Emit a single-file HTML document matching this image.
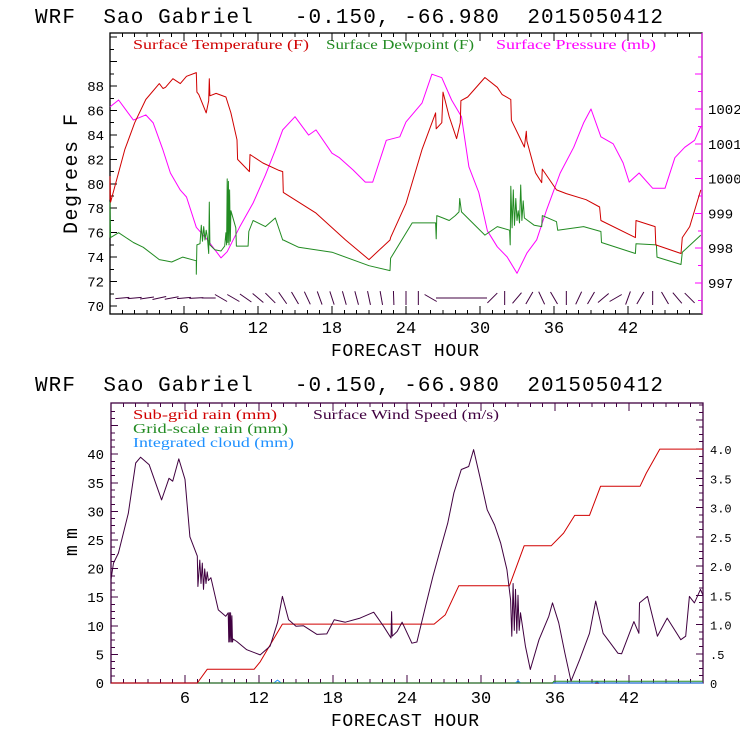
<!DOCTYPE html>
<html><head><meta charset="utf-8"><style>
html,body{margin:0;padding:0;background:#fff;}
svg{display:block;font-family:"Liberation Mono",monospace;}
svg text{white-space:pre;}
.leg{font-family:"Liberation Serif",serif;font-weight:normal;font-size:14px;}
</style></head><body>
<svg id="c" width="740" height="740" viewBox="0 0 740 740" xmlns="http://www.w3.org/2000/svg" xml:space="preserve">
<rect width="740" height="740" fill="#fff"/>
<text x="35" y="23" font-size="21" textLength="628" lengthAdjust="spacing">WRF  Sao Gabriel   -0.150, -66.980  2015050412</text>
<text x="35" y="391" font-size="21" textLength="628" lengthAdjust="spacing">WRF  Sao Gabriel   -0.150, -66.980  2015050412</text>
<text class="leg" x="133" y="49" fill="#d00000" textLength="176" lengthAdjust="spacingAndGlyphs">Surface Temperature (F)</text>
<text class="leg" x="326" y="49" fill="#228b22" textLength="148" lengthAdjust="spacingAndGlyphs">Surface Dewpoint (F)</text>
<text class="leg" x="496" y="49" fill="#ff00ff" textLength="160" lengthAdjust="spacingAndGlyphs">Surface Pressure (mb)</text>
<text class="leg" x="133" y="419" fill="#d00000" textLength="144" lengthAdjust="spacingAndGlyphs">Sub-grid rain (mm)</text>
<text class="leg" x="133" y="433" fill="#228b22" textLength="155" lengthAdjust="spacingAndGlyphs">Grid-scale rain (mm)</text>
<text class="leg" x="133" y="447" fill="#1e90ff" textLength="161" lengthAdjust="spacingAndGlyphs">Integrated cloud (mm)</text>
<text class="leg" x="313" y="419" fill="#400040" textLength="186" lengthAdjust="spacingAndGlyphs">Surface Wind Speed (m/s)</text>
<text x="0" y="0" font-size="20" transform="translate(77,234) rotate(-90)" textLength="120" lengthAdjust="spacing">Degrees F</text>
<text x="0" y="0" font-size="18" transform="translate(77,556) rotate(-90)" textLength="28" lengthAdjust="spacing">mm</text>
<text x="405" y="356" font-size="18" text-anchor="middle" textLength="148" lengthAdjust="spacing">FORECAST HOUR</text>
<text x="405" y="726" font-size="18" text-anchor="middle" textLength="148" lengthAdjust="spacing">FORECAST HOUR</text>
<g id="g"></g>
</svg>
<script>
// ---- data ----
const xTickLabels=["6","12","18","24","30","36","42"];
const tempTickLabels=["70","72","74","76","78","80","82","84","86","88"];
const presTickLabels=["997","998","999","1000","1001","1002"];
const mmTickLabels=["0","5","10","15","20","25","30","35","40"];
const wsTickLabels=["0",".5","1.0","1.5","2.0","2.5","3.0","3.5","4.0"];

const tempH=[0,0,0.05,1.2,2.0,2.9,4.0,4.3,4.5,5.1,5.7,6.2,7.0,7.05,7.2,7.8,8.0,8.05,8.1,8.6,9.4,9.8,10.3,10.35,11.3,11.35,12.4,13.7,14.0,14.05,16.7,19.1,21.0,22.7,22.75,24.0,25.3,26.4,26.45,26.9,27.0,27.5,28.1,28.4,28.45,29.0,30.4,31.4,31.8,32.5,32.55,33.6,33.75,33.8,34.5,35.0,35.05,36.2,37.0,38.6,39.7,39.8,42.6,42.65,44.2,44.25,46.3,46.4,47.0,47.9];
const tempV=[78.7,80.6,78.5,82.8,85.0,86.9,88.2,87.8,87.9,88.6,88.2,88.8,89.1,87.5,87.3,85.8,86.8,88.6,87.2,87.4,87.1,85.8,83.6,82.0,81.0,82.4,81.7,81.1,81.0,79.3,77.6,75.4,73.8,75.4,75.6,78.4,82.8,85.8,84.5,85.0,87.5,85.5,83.7,85.0,86.8,87.1,88.7,87.9,87.3,86.9,85.2,83.0,84.3,83.5,80.9,80.1,81.2,79.5,79.2,78.7,78.1,77.0,75.6,77.0,76.5,75.0,74.3,75.6,76.5,79.5];

const dewH=[0,0,0.05,0.7,1.9,2.7,4.0,4.5,5.0,5.9,7.0,7.0,7.05,7.3,7.4,7.5,7.6,7.7,7.8,7.9,8.0,8.05,8.1,8.5,9.0,9.3,9.4,9.45,9.5,9.55,9.6,9.65,9.7,9.75,9.8,10.2,10.25,11.2,11.25,11.6,12.6,13.4,14.0,14.05,15.3,18.0,21.0,22.7,22.75,24.5,26.4,26.45,26.5,27.0,27.5,28.0,28.3,28.35,28.5,30.4,31.4,32.4,32.45,32.5,32.6,32.7,32.8,32.9,33.0,33.1,33.2,33.3,33.4,33.5,33.6,34.4,35.0,35.05,36.2,36.3,38.4,39.8,39.85,42.6,42.65,44.3,44.35,46.3,46.4,47.9];
const dewV=[75.6,78.5,75.6,76.0,75.2,74.8,73.8,73.7,73.6,74.0,73.7,72.6,75.0,75.1,76.6,75.3,76.5,75.4,76.2,75.6,74.3,78.5,75.0,74.6,74.5,74.9,76.0,75.0,80.4,75.2,80.2,75.0,79.5,75.3,77.8,76.4,74.9,74.9,76.1,77.0,76.5,77.2,75.4,75.4,74.8,74.4,73.3,72.9,73.9,76.8,76.8,75.5,77.4,77.2,77.0,77.4,77.7,78.8,77.7,75.8,76.5,76.2,75.0,79.8,76.4,79.5,76.6,78.8,77.0,77.8,76.8,79.9,77.0,78.6,77.2,76.6,76.5,77.4,76.9,76.2,76.5,76.1,75.2,74.3,75.1,75.0,74.0,73.4,74.4,75.8];

const presH=[0,0.7,1.9,2.9,3.5,4.3,4.9,5.7,6.2,7.0,7.9,9.0,9.5,10.5,11.6,12.6,13.4,14.0,15.0,16.1,16.7,18.0,18.6,19.7,20.7,21.3,22.4,23.5,24.0,25.3,26.1,26.9,27.7,28.5,29.1,29.9,30.6,31.4,32.2,33.0,33.8,34.6,35.4,36.5,37.6,38.4,39.0,39.8,40.8,41.6,42.1,42.9,44.0,45.0,45.8,46.6,47.4,47.9];
const presV=[1002.06,1002.26,1001.68,1001.83,1001.6,1000.82,1000.16,999.67,999.47,998.6,998.24,997.72,997.9,998.6,999.3,1000.1,1000.82,1001.4,1001.78,1001.25,1001.4,1000.73,1000.6,1000.25,999.9,999.9,1001.1,1001.2,1001.63,1002.17,1003.0,1002.9,1002.26,1001.78,1000.34,999.6,998.5,998.04,997.75,997.28,997.86,998.24,999.1,1000.16,1000.9,1001.6,1002.0,1001.2,1001.0,1000.45,999.9,1000.16,999.72,999.72,1000.6,1000.9,1001.1,1001.5];

const barbDir=[5,5,8,12,10,5,3,0,-30,-30,-35,-40,-45,-55,-60,-65,-70,-72,-74,-75,-78,-80,-88,-90,-90,-30,0,0,0,0,45,-90,50,60,-65,-60,-90,65,60,40,30,70,60,-90,-60,-50,-45];

const rainH=[0,7.0,7.8,11.6,12.1,13.9,26.2,27.1,28.2,32.3,33.5,35.7,36.7,37.6,38.8,39.7,42.9,43.4,44.5,48];
const rainV=[0,0,2.4,2.4,3.7,10.3,10.3,11.9,17.0,17.0,24.0,24.0,26.2,29.3,29.3,34.4,34.4,36.7,40.9,40.9];
const gridRainH=[0,35.8,35.9,48];
const gridRainV=[0,0,0.3,0.3];
const cloudH=[0,13.2,13.5,13.8,32.8,33.0,33.2,39.2,39.4,39.6,48];
const cloudV=[0,0,0.5,0,0,0.4,0,0,0.3,0,0];

const wsH=[0,0.2,0.6,1.4,2.0,2.4,3.1,4.1,4.7,5.0,5.5,6.0,6.4,7.0,7.05,7.2,7.3,7.4,7.5,7.6,7.7,7.8,7.9,8.1,8.7,9.3,9.5,9.55,9.6,9.65,9.7,9.75,9.8,9.85,9.9,10.2,11.0,12.1,12.9,13.5,13.9,14.4,15.0,15.6,16.7,17.5,18.1,19.0,20.2,21.3,22.1,22.7,22.75,22.8,23.2,23.6,24.4,24.8,25.5,26.1,26.7,27.3,27.8,28.4,29.0,29.4,29.9,30.5,31.1,31.6,32.1,32.4,32.5,32.6,32.7,32.8,32.9,33.0,33.1,33.2,33.6,34.0,34.7,35.5,35.8,36.3,36.8,37.3,38.0,38.8,39.3,39.9,40.5,41.1,41.4,42.4,42.8,42.85,43.5,44.3,45.1,46.2,46.6,46.9,47.3,47.8,48];
const wsV=[1.77,2.05,2.22,2.9,3.76,3.86,3.73,3.13,3.5,3.45,3.83,3.48,2.5,2.17,1.65,2.1,1.7,2.05,1.6,1.95,1.7,1.9,1.75,1.8,1.25,1.14,1.2,0.7,1.2,0.7,1.2,0.7,1.15,0.7,0.75,0.71,0.57,0.48,0.63,1.03,1.48,1.08,0.97,0.98,0.83,0.84,1.08,1.04,1.11,1.21,0.97,0.77,1.22,0.8,0.88,1.04,0.68,0.7,1.31,1.82,2.28,2.73,3.25,3.65,3.7,3.99,3.53,2.96,2.7,2.39,1.94,1.42,0.8,1.7,0.9,1.6,0.85,1.5,0.9,1.2,0.63,0.23,0.74,1.14,1.37,1.03,0.51,0.03,0.4,0.85,1.4,0.85,0.68,0.51,0.5,1.05,0.85,1.37,1.48,0.8,1.11,0.74,0.8,1.48,1.37,1.6,1.5];

// ---- scales ----
const T={l:110,r:702,t:33,b:314};
const B={l:111,r:703,t:403,b:683};
const xT=h=>T.l+h*(T.r-T.l)/48;
const yTemp=v=>306-(v-70)*12.22;
const yPres=v=>109-(v-1002)*34.8;
const xB=h=>B.l+h*(B.r-B.l)/48;
const yMM=v=>683-v*5.72;
const yWS=v=>683-v*58.5;

const NS='http://www.w3.org/2000/svg';
const G=document.getElementById('g');
function mk(tag,attrs,parent){const e=document.createElementNS(NS,tag);for(const k in attrs)e.setAttribute(k,attrs[k]);(parent||G).appendChild(e);return e;}
function line(x1,y1,x2,y2,c,p){return mk('line',{x1,y1,x2,y2,stroke:c,'stroke-width':1,'shape-rendering':'crispEdges'},p);}
function txt(x,y,s,anchor,size,c){const e=mk('text',{x,y,'font-size':size,'text-anchor':anchor,fill:c});e.textContent=s;return e;}
function series(H,V,fx,fy,color,name){
  let d='';for(let i=0;i<H.length;i++){d+=(i?'L':'M')+fx(H[i]).toFixed(1)+','+fy(V[i]).toFixed(1);}
  const p=mk('path',{d,fill:'none',stroke:color,'stroke-width':1,'stroke-linejoin':'round'});
  
  
  return p;
}

// ---- top panel axes ----
const ta=mk('g',{});


mk('rect',{x:T.l,y:T.t,width:T.r-T.l,height:T.b-T.t,fill:'none',stroke:'#000','stroke-width':1.3},ta);
line(T.r,T.t,T.r,T.b,'#ff00ff',ta);
for(let h=1;h<48;h++){const L=h%6===0?8:4;const x=xT(h);line(x,T.b,x,T.b-L,'#000',ta);line(x,T.t,x,T.t+L,'#000',ta);}
for(let v=70;v<=92;v++){const y=yTemp(v);const L=v%2===0?7:4;line(T.l,y,T.l+L,y,'#000',ta);}
for(let v=996.5;v<=1003.5;v+=0.5){const y=yPres(v);if(y<T.t||y>T.b)continue;const L=Number.isInteger(v)?7:4;line(T.r,y,T.r-L,y,'#ff00ff',ta);}
tempTickLabels.forEach(s=>{const t=txt(104,yTemp(+s)+5,s,'end',14,'#000');});
presTickLabels.forEach(s=>{const t=txt(708,yPres(+s)+5,s,'start',14,'#000');});
xTickLabels.forEach(s=>{const t=txt(xT(+s),333,s,'middle',17,'#000');});

series(presH,presV,xT,yPres,'#ff00ff','pressure-line');
series(dewH,dewV,xT,yTemp,'#228b22','dewpoint-line');
series(tempH,tempV,xT,yTemp,'#d00000','temperature-line');

// wind barbs
const bg=mk('g',{});


barbDir.forEach((a,i)=>{const h=i+1;const x=xT(h);const y=298;const r=a*Math.PI/180;const L=7;
  const e=line(x-L*Math.cos(r),y+L*Math.sin(r),x+L*Math.cos(r),y-L*Math.sin(r),'#400040',bg);
  e.setAttribute('shape-rendering','auto');
  
  });

// ---- bottom panel axes ----
const ba=mk('g',{});


const AC='#400040';
mk('rect',{x:B.l,y:B.t,width:B.r-B.l,height:B.b-B.t,fill:'none',stroke:AC,'stroke-width':1.3},ba);
for(let h=1;h<48;h++){const L=h%6===0?8:4;const x=xB(h);line(x,B.b,x,B.b-L,AC,ba);line(x,B.t,x,B.t+L,AC,ba);}
for(let v=0;v<=48;v+=1.25){const y=yMM(v);if(y<B.t)continue;const L=v%5===0?7:4;line(B.l,y,B.l+L,y,AC,ba);}
for(let v=0;v<=4.75;v+=0.125){const y=yWS(v);if(y<B.t)continue;const L=(v*2)%1===0?7:4;line(B.r,y,B.r-L,y,AC,ba);}
mmTickLabels.forEach(s=>{const t=txt(104,yMM(+s)+5,s,'end',14,'#000');});
wsTickLabels.forEach((s,i)=>{const t=txt(710,yWS(i*0.5)+5,s,'start',12,'#000');});
xTickLabels.forEach(s=>{const t=txt(xB(+s),703,s,'middle',17,'#000');});

series(cloudH,cloudV,xB,yMM,'#1e90ff','integrated-cloud-line');
series(gridRainH,gridRainV,xB,yMM,'#228b22','gridscale-rain-line');
series(rainH,rainV,xB,yMM,'#d00000','subgrid-rain-line');
series(wsH,wsV,xB,yWS,'#400040','wind-speed-line');
</script>
</body></html>
